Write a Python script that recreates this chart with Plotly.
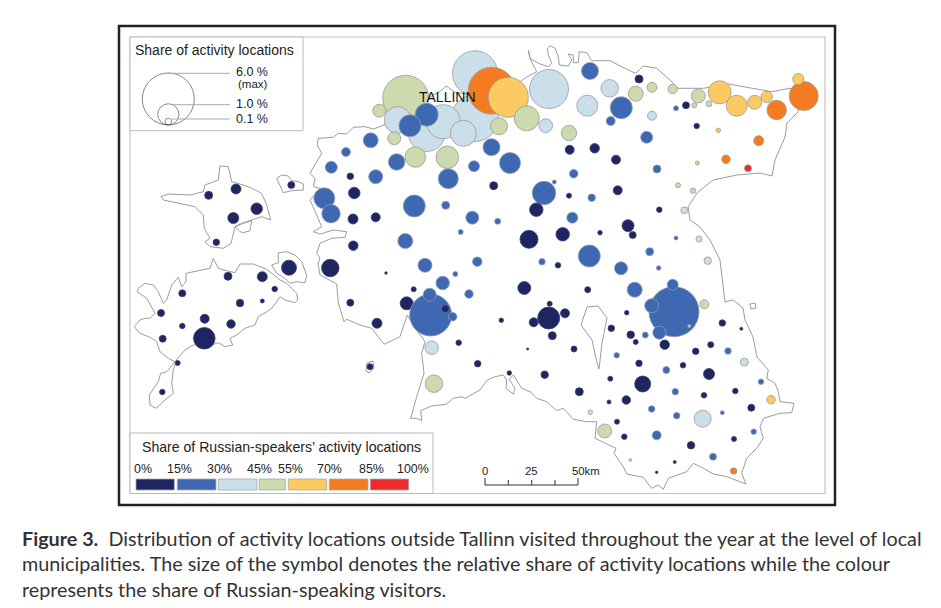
import math
import plotly.graph_objects as go

# Municipalities, in drawing order: map position, share of activity locations (%), Russian-speaker band (0-6)
muni_x = [475,475,491.7,508.3,549,405.7,426.7,397.7,443.3,463.3,426.7,410,379.3,394.3,499,526.7,545.7,569,
 569.7,491.5,510,415.3,447.3,396.7,474,370.7,346,331.3,350.3,375.7,448.3,291.3,236,208.7,256.7,233.3,216.3,
 324.3,331,354.3,353,375.7,353.3,414.3,445.7,472.3,460.7,405.3,425,477.3,
 289,330.3,228,262.3,274.7,182.3,240,262.3,161,204.7,182.3,231,162.7,204.3,177.7,162.3,370,350.3,406.7,377,413.7,386,
 430.7,429.7,442.7,455.3,469,445.3,452.7,458.7,477.7,431.7,434,
 590,609.7,587.3,621.3,610.7,635.7,639,652,672.7,698.3,719.7,736.7,754.7,766.7,776.7,803.7,798.3,709,694.3,686,676,652,646.7,696.7,718.3,758.7,726,697.3,748,657,616,594.7,
 493.7,573.7,617.7,544,554.3,569,591.7,536.3,572.3,497.7,529,562.7,600,628,632.7,659.3,678,693,684.3,699,676,589.3,649.7,542,558,707.7,658.7,
 524.3,587.7,621,634.7,674,672.7,651.7,659.3,689.3,704.3,549.7,548.7,565,533.7,552.3,501.3,626.7,611.3,630.7,645.3,635.7,664.7,722.3,741.3,695.7,710.7,728,744.3,574,527.7,616.7,639,544.7,509.3,683,666.3,709,610.3,642.7,761,735.3,675.3,704,579.3,626.3,609,771,751.3,651.7,722.3,590.3,676.7,702.7,617,753.7,604.7,624.3,656.7,734,691,713,630.3,674.7,733.7,656.7]
muni_y = [73.3,118,90.7,97.3,89,98.3,133,120,121.7,133.3,114.7,125.7,110.7,138.3,126.3,118.3,125.7,133,
 149.8,147.2,163,157,157.3,162,166.2,140.3,152,167.3,176.3,176.7,178.7,185,189,195.3,208.7,218,242.3,
 198.3,213.7,193,219,217.3,245.7,206,205.3,217.7,232,241,265.3,261.7,
 267.7,268,276.3,276.7,289,293.3,303,301,313,318.7,326,324,338.7,338.3,363,392,366.7,302.7,303.3,323.3,289.3,273,
 315,294.7,283,274,294,308.7,316.7,342.7,363.7,347.7,383.7,
 71,88.3,105.7,107.7,121,93.7,79,87.3,89,96,92.3,105.7,102.3,97,110,96,79,103.7,105.3,105.3,108.3,115.7,137.3,126,130.3,140.7,159.3,163,168.3,169,159.7,148.3,
 185.7,173.7,190.3,193,182,195.7,197.7,209.7,217.7,221.3,239.3,234.3,232.7,225.7,235,209.7,185.3,190.7,210.3,239,238,256,251.7,261.7,265.3,260.7,268,
 288,289.7,268.3,289.7,311.7,284.7,305.7,332.7,326,304.3,303.7,318,313.3,322.3,335.7,320.3,312.7,328.3,334.7,335,342,344.7,323,328.7,351.3,344.7,351,362,349,349,355.3,363.3,374.7,373,365.3,370,374,378.7,384,381.7,391,391.7,395.3,391.7,400,402,399.7,407.7,409,412.7,412.3,415.7,418.7,421.7,431.7,431,436.7,435.3,439,445.3,456.7,460,462,471,472.3]
muni_share = [4.5,4.9,4.9,3.56,3.38,4.7,3.04,1.62,2.57,1.5,1.176,1.076,0.375,0.375,0.642,1.389,0.42,0.52,
 0.18,0.642,0.98,0.934,1.125,0.605,0.269,0.5,0.18,0.32,0.094,0.436,0.889,0.109,0.222,0.142,0.294,0.269,0.094,
 0.98,0.76,0.294,0.222,0.18,0.2,1.076,0.142,0.375,0.056,0.5,0.436,0.2,
 0.5,0.68,0.142,0.222,0.067,0.109,0.125,0.036,0.109,0.18,0.067,0.16,0.109,1.03,0.056,0.067,0.08,0.109,0.375,0.222,0.056,0.014,
 3.92,0.375,0.405,0.056,0.16,0.094,0.16,0.067,0.094,0.405,0.68,
 0.642,0.68,0.98,1.076,0.18,0.5,0.142,0.222,0.2,0.436,1.176,0.98,0.436,0.294,0.845,1.87,0.269,0.08,0.056,0.109,0.056,0.18,0.32,0.067,0.045,0.222,0.16,0.036,0.109,0.142,0.18,0.2,
 0.142,0.16,0.18,1.227,0.036,0.056,0.125,0.405,0.269,0.08,0.72,0.405,0.045,0.32,0.109,0.067,0.056,0.067,0.109,0.08,0.036,1.076,0.142,0.094,0.067,0.125,0.045,
 0.375,0.08,0.375,0.5,5.56,0.269,0.436,0.375,0.02,0.18,0.056,1.076,0.18,0.18,0.142,0.045,0.045,0.094,0.125,0.08,0.056,0.2,0.094,0.02,0.094,0.08,0.094,0.142,0.08,0.01,0.067,0.094,0.125,0.045,0.067,0.109,0.269,0.056,0.569,0.067,0.067,0.094,0.067,0.142,0.16,0.036,0.16,0.109,0.094,0.036,0.045,0.094,0.642,0.056,0.067,0.436,0.067,0.18,0.056,0.125,0.109,0.02,0.02,0.094,0.014]
muni_band = [2,2,5,4,2,3,2,2,2,2,1,1,3,3,3,3,2,3,
 0,1,1,3,3,1,1,1,1,1,0,1,1,0,0,0,0,0,0,
 1,1,0,0,0,0,1,1,1,1,1,1,1,
 0,0,0,0,0,0,0,0,0,0,0,0,0,0,0,0,0,0,0,0,0,0,
 1,1,1,1,1,0,1,0,0,2,3,
 1,2,2,1,1,3,0,3,3,3,4,4,4,4,5,5,4,3,3,0,1,2,1,0,4,5,5,4,6,1,0,0,
 0,1,0,1,1,0,1,0,1,1,0,0,0,0,0,0,3,3,2,2,1,1,1,1,0,2,1,
 0,0,1,1,1,1,1,1,2,3,0,0,0,0,0,0,0,0,0,1,0,0,0,0,0,0,1,2,0,0,1,0,0,0,0,1,0,0,0,1,0,1,0,0,0,0,4,0,1,1,2,1,2,0,1,3,0,1,0,0,1,2,0,5,0]

# Outlines (map position pairs)
mainland = [(525,78),(510,90),(470,95),(455,92),(446,86),(442,90),(432,96),(405,110),(384.3,125),(373.3,129),(365,126.7),(353.3,127.3),(346.7,134),(338.3,133.3),(333.3,137.3),(318.3,138.3),(317.3,145),(321.7,153.3),(316.7,161.7),(310,173.3),(315,178.3),(313.3,186.7),(320,188.3),(310,200),(316.7,215),(321.7,226.7),(313.3,231.7),(320,234),(333.3,230),(346.7,231.7),(345,237.3),(331.7,238.3),(320,243.3),(316.7,253.3),(320,258),(318,264),(320,275),(336.7,284),(338.3,303),(344,321.7),(346.7,319.3),(360,325),(371.7,328.3),(376.7,335),(384,344.3),(400,336.7),(407.3,315),(413,325),(425,341.7),(421.7,353.3),(424,373.3),(416.7,396.7),(410.7,418.3),(416.7,418.3),(421.7,420.7),(420.7,410.7),(431.7,406),(440,405),(446.7,404),(453.3,398.3),(461.7,396.7),(465,398.3),(480,390),(487.3,380),(495,376.7),(503.3,375),(506.7,380),(506,388.3),(513.3,394),(515,388.3),(509.3,379.3),(513.3,375),(521.7,388.3),(530,391.7),(536.7,398.3),(546.7,401.7),(556.7,410.7),(563.3,408.3),(573.3,419.3),(586.7,421.7),(596.7,421.7),(595,438.3),(610,445),(616,448.3),(614,453.3),(623.3,466.7),(626.7,474),(643.3,477.3),(651.7,488.3),(658.3,485),(663.3,489.3),(668.3,478.3),(686.7,471.7),(693.3,463.3),(703.3,468.3),(713.3,474),(726.7,476.7),(746,484),(741.7,473.3),(746.7,458.3),(756.7,448.3),(763.3,438.3),(760,426.7),(763.3,418.3),(780,413.3),(791.7,412.7),(794,403.3),(780,401.7),(778.3,391.7),(775,383.3),(766.7,378.3),(768.3,370),(757,357),(753,337),(745,320),(743,308),(733,300),(725,302),(722,277),(720,260),(710,240),(700,227),(690,220),(688,207),(697,193),(713,180),(737,175),(760,173),(772,176),(775,160),(785,137),(787,123),(798,112),(803,93),(790,88.3),(771.7,91.7),(728.3,84),(703.3,88.3),(678.3,88.3),(670,80),(656.7,68.3),(643.3,66),(635.7,73.3),(626.7,69.3),(610,60.7),(591.7,60.7),(586.7,52.7),(579.3,51.7),(578.3,62.7),(573.3,62.7),(573.3,55),(568.3,54),(571.7,60),(568.3,66),(559.3,65),(558.3,56.7),(555,48.3),(550,45.7),(547.3,48.3),(548.3,55),(551.7,63.3),(548.3,66.7),(538.3,63.3),(530,58.3),(528.3,50),(530,58.3),(536.7,71.7),(525,78)]
hiiumaa = [(220,166),(228.3,166.7),(231.7,181.7),(243.3,185),(251.7,188.3),(261.7,193.3),(266.7,205),(270.7,220),(261.7,216.7),(251.7,220),(241.7,223.3),(235,226.7),(231,243.3),(223.3,248.3),(210,246.7),(205,241.7),(210,238.3),(204.3,228.3),(203.3,215),(195,206.7),(178.3,203.3),(163.3,200),(161,196.7),(168.3,194),(190,195),(203.3,191.7),(205,185),(218.3,180),(220,166)]
saaremaa = [(213.3,258.3),(218.3,268.3),(226.7,270.7),(235,272.7),(240,264),(253.3,264),(266.7,269.3),(273.3,275),(280,280),(286.7,283.3),(296.7,293.3),(297.7,300),(295,302.7),(285,300),(280,296.7),(276.7,301.7),(271.7,308.3),(266.7,311.7),(258.3,316.7),(255,325),(245,328.3),(236.7,335),(230,338.3),(232.7,345),(225,346.7),(218.3,342.7),(211.7,345),(193.3,345),(185,350),(176.7,359.3),(173.3,370),(171.7,383.3),(173.3,393.3),(165,400),(156,408.3),(150,405),(149.3,395),(158.3,381.7),(160.7,373.3),(166.7,371.7),(175,361.7),(168.3,358.3),(160,351.7),(156.7,341.7),(150,337.3),(140,333.3),(134.3,326.7),(140,320),(145,318.3),(150,318.3),(155,313.3),(146.7,298.3),(137.3,291.7),(138.3,288.3),(145,283.3),(153.3,285),(158.3,291.7),(163.3,303.3),(166.7,300),(171.7,285),(178.3,277.3),(181.7,286.7),(186,281.7),(186,273.3),(200,270),(210,268.3),(213.3,258.3)]
muhu = [(278.3,252.7),(286.7,251.7),(295,255),(301.7,261.7),(306.7,275),(305,282.7),(296.7,281.7),(290,283.3),(285,278.3),(276.7,273.3),(271.7,265),(278.3,262.7),(278.3,252.7)]
vormsi = [(276.7,178.3),(281.7,175),(288.3,176),(291.7,180.7),(298.3,181.7),(303.3,184),(303.3,190),(291.7,190.7),(283.3,192.7),(280,186),(276.7,178.3)]
kihnu = [(367,363),(373,361),(374,368),(369,373),(366,371),(367,363)]
vortsjarv = [(587,307),(598,306),(607,318),(602,343),(599,369),(597,363),(592,340),(581,325),(587,307)]
piirissaar = [(750,304),(755,303),(756,308),(751,309),(750,304)]
virtsu_isle = [(235,226.7),(240,231.7),(243.3,232.7),(250,230.7),(251.7,220.7),(243.3,223.3),(235,226.7)]

band_colours = ["#1f2560","#3f68b2","#cbdfea","#ccdaae","#fdca62","#f47b20","#ec2b2a"]
band_labels = ["0%","15%","30%","45%","55%","70%","85%","100%"]
size_labels = ["6.0 %","1.0 %","0.1 %"]
size_shares = [6.0,1.0,0.1]
MAX_D = 52
def dia(s):
    return MAX_D*math.sqrt(s/6.0)

INK = "#222222"
GREY = "#b9b9b9"
fig = go.Figure()

for ring in [mainland,hiiumaa,saaremaa,muhu,vormsi,kihnu,vortsjarv,piirissaar,virtsu_isle]:
    fig.add_trace(go.Scatter(x=[p[0] for p in ring],y=[p[1] for p in ring],mode="lines",
                             line=dict(color="#9c9c9c",width=1),hoverinfo="skip",showlegend=False))

fig.add_trace(go.Scatter(x=muni_x,y=muni_y,mode="markers",showlegend=False,
    marker=dict(size=[dia(s) for s in muni_share],color=[band_colours[b] for b in muni_band],opacity=1,
                line=dict(color=["#3a3f70" if b==0 else "#8f9bb0" if b==1 else "#9a9a9a" for b in muni_band],width=0.8))))

# size legend
leg_x = 168.3; leg_base = 125
fig.add_trace(go.Scatter(x=[leg_x]*3,y=[leg_base-dia(s)/2 for s in size_shares],mode="markers",showlegend=False,
    marker=dict(size=[dia(s) for s in size_shares],color="rgba(0,0,0,0)",line=dict(color="#555555",width=1))))

shapes = []
def rect(x0,y0,x1,y1,line,w,fill=None):
    shapes.append(dict(type="rect",xref="x",yref="y",x0=x0,y0=y0,x1=x1,y1=y1,layer="below",
                       line=dict(color=line,width=w),fillcolor=fill or "rgba(0,0,0,0)"))
def seg(x0,y0,x1,y1,c,w=1):
    shapes.append(dict(type="line",xref="x",yref="y",x0=x0,y0=y0,x1=x1,y1=y1,line=dict(color=c,width=w),layer="above"))

rect(119,26,835,505,"#222222",2.5)
rect(130,37,825,493.5,"#c4c4c4",1.2)
rect(130,37,303,130.7,GREY,1,"#ffffff")
rect(130,433,433,493.5,GREY,1,"#ffffff")

seg(168,73.3,230,73.3,"#aaaaaa"); seg(173,104.7,230,104.7,"#aaaaaa"); seg(172,119,230,119,"#aaaaaa")

swatch_edges = [(136,174.3),(177.3,216),(218.3,257),(259.3,285.3),(288.3,326.7),(329.3,368),(370.3,408.7)]
for (a,b),c in zip(swatch_edges,band_colours):
    shapes.append(dict(type="rect",xref="x",yref="y",x0=a,x1=b,y0=479,y1=490,fillcolor=c,line=dict(color="#a8a8a8",width=0.8),layer="above"))

# scale bar
seg(485,485,578,485,"#333333")
for i,x in enumerate([485,508.3,531.7,555,578]):
    seg(x,478 if i in (0,4) else 480,x,485,"#333333")

anns = []
def txt(x,y,t,size=12,anchor="left",font="Liberation Sans",color=INK):
    anns.append(dict(x=x,y=y,xref="x",yref="y",text=t,showarrow=False,xanchor=anchor,yanchor="middle",
                     font=dict(family=font,size=size,color=color)))
txt(133,50,"Share of activity locations",14)
for y,t in zip([72,104,118.7],size_labels):
    txt(234,y,t,12.5)
txt(235.5,84,"(max)",11.5)
txt(281.7,446.7,"Share of Russian-speakers’ activity locations",14.1,"center")
for x,t in zip([142.7,179,219.3,259,290.7,329.7,371,413.3],band_labels):
    txt(x,469,t,12.4,"center")
txt(485,471,"0",11.3,"center"); txt(531.7,471,"25",11.3,"center"); txt(586,471,"50km",11.3,"center")
txt(447.5,97.3,"TALLINN",14,"center",color="#111111")
CAP = "Lato"
txt(19.5,538,"<b>Figure 3.</b>\u00a0\u00a0Distribution of activity locations outside Tallinn visited throughout the year at the level of local",19.75,font=CAP,color="#333333")
txt(19.5,563,"municipalities. The size of the symbol denotes the relative share of activity locations while the colour",19.75,font=CAP,color="#333333")
txt(19.5,589,"represents the share of Russian-speaking visitors.",19.75,font=CAP,color="#333333")

# The page body sits 8px in from the window corner, so the view starts at 8,8
fig.update_layout(width=933,height=600,margin=dict(l=0,r=0,t=0,b=0),paper_bgcolor="white",plot_bgcolor="white",
    xaxis=dict(range=[8,941],visible=False,fixedrange=True),yaxis=dict(range=[608,8],visible=False,fixedrange=True),
    shapes=shapes,annotations=anns,showlegend=False)
assert len(muni_x)==len(muni_y)==len(muni_share)==len(muni_band),(len(muni_x),len(muni_y),len(muni_share),len(muni_band))
fig.write_html("out.html",config={"displayModeBar":False})
